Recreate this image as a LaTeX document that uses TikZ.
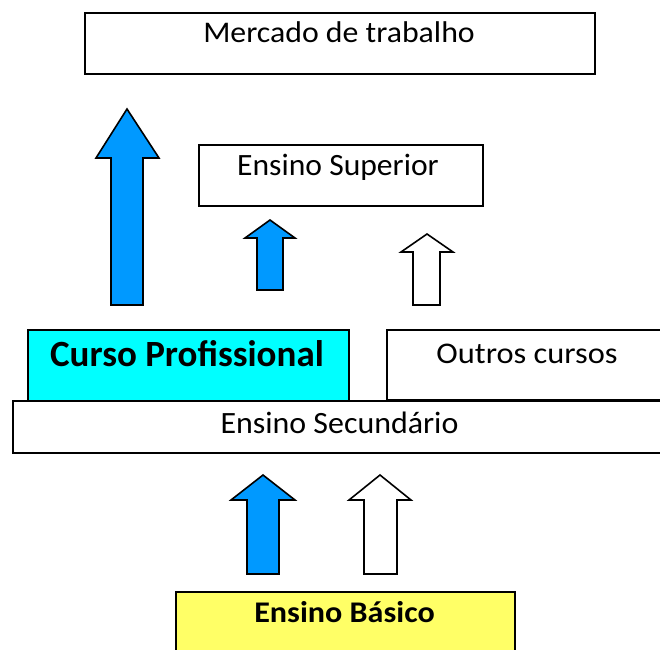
\documentclass[tikz,border=0pt]{standalone}
\usepackage{fontspec}
\setmainfont{Carlito}
\definecolor{arrowblue}{HTML}{0099FF}
\definecolor{boxcyan}{HTML}{00FFFF}
\definecolor{boxyellow}{HTML}{FFFF66}
\newcommand{\wtxt}[2]{\scalebox{#1}[1]{#2}}
\begin{document}
\begin{tikzpicture}[x=1pt,y=-1pt,
  box/.style={draw=black, line width=2pt, inner sep=0pt, anchor=north west},
  lbl/.style={inner sep=0pt, anchor=base, font=\fontsize{30}{34}\selectfont},
  blbl/.style={inner sep=0pt, anchor=base, font=\fontsize{37}{40}\selectfont\bfseries},
  blbl2/.style={inner sep=0pt, anchor=base, font=\fontsize{30}{34}\selectfont\bfseries},
  blockarrow/.style={draw=black, line width=1.6pt, line join=miter},
  bluearrow/.style={blockarrow, fill=arrowblue},
  whitearrow/.style={blockarrow, fill=white}]
\useasboundingbox (0,0) rectangle (660,649);
\clip (0,0) rectangle (660,649);
% boxes
\node[box, minimum width=510pt, minimum height=61pt] (mercado) at (84,12) {};
\node[box, minimum width=284pt, minimum height=61pt] (superior) at (198,144) {};
\node[box, fill=boxcyan, minimum width=321pt, minimum height=71pt] (curso) at (27,329) {};
\node[box, minimum width=290pt, minimum height=70pt] (outros) at (386,329) {};
\node[box, minimum width=670pt, minimum height=52pt] (secundario) at (12,400) {};
\node[box, fill=boxyellow, minimum width=339pt, minimum height=80pt] (basico) at (175,591) {};
% labels
\node[lbl] (tmercado) at (339,42) {\wtxt{1.06}{Mercado de trabalho}};
\node[lbl, font=\fontsize{31}{34}\selectfont] (tsuperior) at (338,175) {\wtxt{1.02}{Ensino Superior}};
\node[blbl] (tcurso) at (187,366) {Curso Profissional};
\node[lbl] (toutros) at (527,363) {\wtxt{1.08}{Outros cursos}};
\node[lbl, font=\fontsize{31}{34}\selectfont] (tsecundario) at (339.5,433) {\wtxt{1.03}{Ensino Secund\'ario}};
\node[blbl2] (tbasico) at (344.5,622) {\wtxt{1.07}{Ensino B\'asico}};
% block arrows
\draw[bluearrow] (111,305) -- (111,158) -- (96,158) -- (127,109) -- (159,158) -- (143,158) -- (143,305) -- cycle;
\draw[bluearrow] (257,290) -- (257,238) -- (245,238) -- (270,220) -- (295,238) -- (283,238) -- (283,290) -- cycle;
\draw[whitearrow] (413,305) -- (413,252) -- (401,252) -- (427,234) -- (453,252) -- (440,252) -- (440,305) -- cycle;
\draw[bluearrow] (247,574) -- (247,500) -- (231,500) -- (263,475) -- (295,500) -- (279,500) -- (279,574) -- cycle;
\draw[whitearrow] (364,574) -- (364,500) -- (349,500) -- (380,475) -- (411,500) -- (397,500) -- (397,574) -- cycle;
\end{tikzpicture}
\end{document}
